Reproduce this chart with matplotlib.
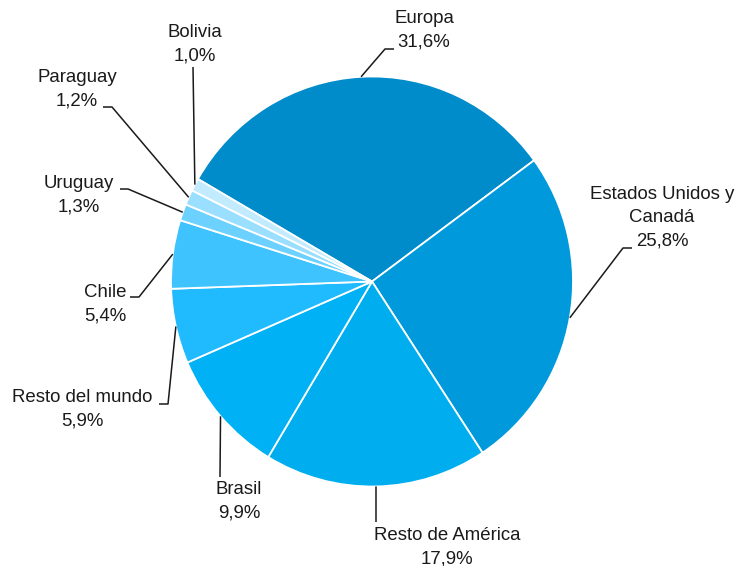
import numpy as np
import matplotlib
matplotlib.use("Agg")
import matplotlib.pyplot as plt

labels = ["Europa", "Estados Unidos y\nCanadá", "Resto de América", "Brasil",
          "Resto del mundo", "Chile", "Uruguay", "Paraguay", "Bolivia"]
values = [31.6, 25.8, 17.9, 9.9, 5.9, 5.4, 1.3, 1.2, 1.0]
colors = ["#008BCA", "#009ADC", "#00AEEF", "#00B1F5", "#20BAFF",
          "#3FC3FF", "#6CD1FF", "#9ADFFF", "#C2EBFF"]

W, H = 739, 566
CX, CY = 372, 281.5
RX, RY = 201, 205

fig = plt.figure(figsize=(W/100, H/100), dpi=100)
ax = fig.add_axes([0, 0, 1, 1])
ax.axis("off")

def px(x, y):
    return ((x-CX)/RX, (CY-y)/RY)

wedges, _ = ax.pie(values, colors=colors, startangle=150, counterclock=False,
                   radius=1, center=(0, 0),
                   wedgeprops=dict(edgecolor="white", linewidth=1.3))
ax.set_xlim(-CX/RX, (W-CX)/RX)
ax.set_ylim(-(H-CY)/RY, CY/RY)
ax.set_aspect("auto")

# label text centers (pixels) and leader elbows (pixels)
text_pos = [(424, 30), (662, 218), (447, 547), (239, 501), (82, 409),
            (105, 304), (79, 195), (77, 89), (195, 44)]
elbows = [
    [(385, 49), (394, 49)],
    [(623, 248), (632, 248)],
    [(376, 522)],
    [(220, 477)],
    [(168, 404), (159, 404)],
    [(139, 297), (130, 297)],
    [(128, 189), (120, 189)],
    [(112, 107), (103, 107)],
    [(193, 67)],
]

pct = [f"{v:.1f}%".replace(".", ",") for v in values]
for w, lab, p, (tx, ty), el in zip(wedges, labels, pct, text_pos, elbows):
    ang = np.deg2rad((w.theta1 + w.theta2) / 2)
    sx, sy = np.cos(ang), np.sin(ang)
    pts = [(sx, sy)] + [px(*e) for e in el]
    xs, ys = zip(*pts)
    ax.plot(xs, ys, color="#1a1a1a", lw=1.1, solid_capstyle="butt")
    ax.text(*px(tx, ty), f"{lab}\n{p}", ha="center", va="center",
            fontsize=13.4, family="Liberation Sans", color="#1a1a1a",
            linespacing=1.5)

fig.savefig("out.png", dpi=100)
